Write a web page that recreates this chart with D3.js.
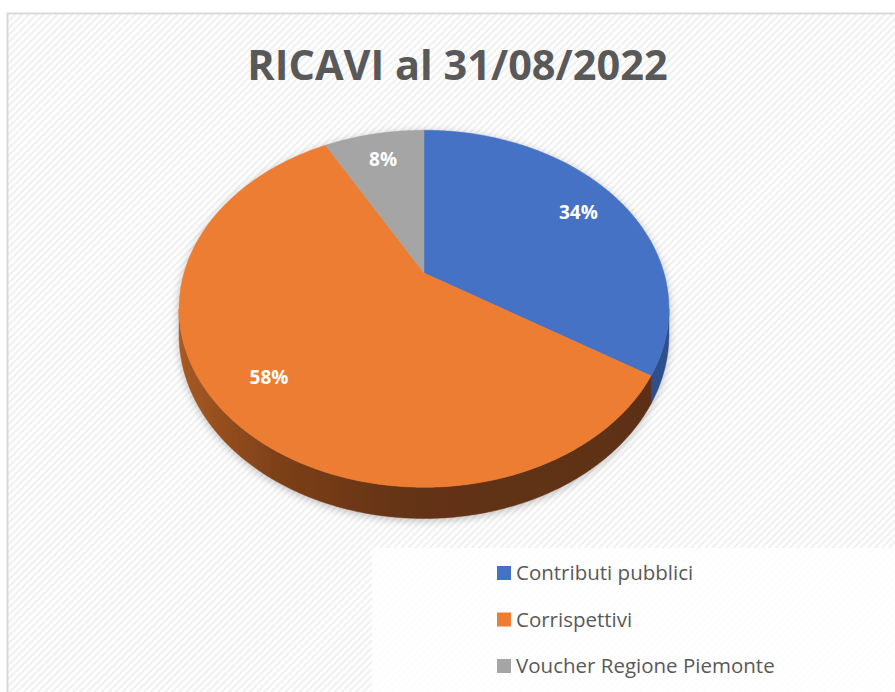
<!DOCTYPE html>
<html>
<head>
<meta charset="utf-8">
<script src="https://cdn.jsdelivr.net/npm/d3@7"></script>
<style>
  body { margin: 0; background: #fff; }
  svg { display: block; }
</style>
</head>
<body>
<div class="container"></div>
<script>
// chart data
const categories = ["Contributi pubblici", "Corrispettivi", "Voucher Regione Piemonte"];
const values = [34, 58, 8];
const colors = ["#4472c4", "#ed7d31", "#a5a5a5"];
const sideColors = ["#2e4f8c", "url(#orangeSide)", "#6f6f6f"];
const titleText = "RICAVI al 31/08/2022";

const width = 895;
const height = 692;

const svg = d3.select(".container")
  .append("svg")
  .attr("width", width)
  .attr("height", height);

const defs = svg.append("defs");

// light diagonal hatching of the chart area
const pat = defs.append("pattern")
  .attr("id", "hatch")
  .attr("patternUnits", "userSpaceOnUse")
  .attr("width", 5)
  .attr("height", 5)
  .attr("patternTransform", "rotate(45)");
pat.append("rect").attr("width", 5).attr("height", 5).attr("fill", "#ffffff");
pat.append("rect").attr("width", 2).attr("height", 5).attr("fill", "#f0f0f0");

// gradient for the orange side wall
const grad = defs.append("linearGradient")
  .attr("id", "orangeSide")
  .attr("gradientUnits", "userSpaceOnUse")
  .attr("x1", 180).attr("x2", 660).attr("y1", 0).attr("y2", 0);
grad.append("stop").attr("offset", 0).attr("stop-color", "#a65a22");
grad.append("stop").attr("offset", 0.2).attr("stop-color", "#7e4019");
grad.append("stop").attr("offset", 0.45).attr("stop-color", "#653415");
grad.append("stop").attr("offset", 1).attr("stop-color", "#5c2f12");

const shadow = defs.append("filter")
  .attr("id", "shadow")
  .attr("x", "-10%").attr("y", "-10%")
  .attr("width", "120%").attr("height", "130%");
shadow.append("feDropShadow")
  .attr("dx", 0).attr("dy", 2)
  .attr("stdDeviation", 4)
  .attr("flood-color", "#000")
  .attr("flood-opacity", 0.25);

// chart area with border
svg.append("rect")
  .attr("x", 7.5).attr("y", 13.5)
  .attr("width", 900).attr("height", 700)
  .attr("fill", "url(#hatch)")
  .attr("stroke", "#d9d9d9")
  .attr("stroke-width", 2);

// title
svg.append("text")
  .attr("x", 457.5)
  .attr("y", 80)
  .attr("text-anchor", "middle")
  .attr("font-family", "Open Sans, sans-serif")
  .attr("font-weight", "bold")
  .attr("font-size", 41.5)
  .attr("fill", "#595959")
  .text(titleText);

// 3d pie: perspective projection of a flat disc
const cx = 424, cy = 273;
const A = 240, B = 171.4, k = 0.2, depth = 25;

function proj(a, r, dz) {
  const u = r * Math.sin(a);
  const v = -r * Math.cos(a);
  const s = 1 - k * v;
  return [cx + A * u / s, cy + (B * v + (dz || 0)) / s];
}

function arcPoints(a0, a1, r, dz) {
  const n = Math.max(2, Math.ceil(Math.abs(a1 - a0) / 0.01));
  return d3.range(n + 1).map(i => proj(a0 + (a1 - a0) * i / n, r, dz));
}

const pie = d3.pie().sort(null).value(d => d);
const arcs = pie(values);
const total = d3.sum(values);

const line = d3.line().curve(d3.curveLinearClosed);

const pieG = svg.append("g").attr("filter", "url(#shadow)");

// visible part of the outer wall (front half, between silhouette points)
const wallStart = Math.PI / 2 + Math.asin(k);
const wallEnd = 3 * Math.PI / 2 - Math.asin(k);

pieG.append("g")
  .selectAll("path")
  .data(arcs.filter(d => d.endAngle > wallStart && d.startAngle < wallEnd))
  .join("path")
  .attr("d", d => {
    const a0 = Math.max(d.startAngle, wallStart);
    const a1 = Math.min(d.endAngle, wallEnd);
    const top = arcPoints(a0, a1, 1, 0);
    const bottom = arcPoints(a1, a0, 1, depth);
    return line(top.concat(bottom));
  })
  .attr("fill", d => sideColors[d.index])
  .attr("stroke", d => sideColors[d.index])
  .attr("stroke-width", 0.5);

// top faces
pieG.append("g")
  .selectAll("path")
  .data(arcs)
  .join("path")
  .attr("d", d => line([proj(0, 0)].concat(arcPoints(d.startAngle, d.endAngle, 1, 0))))
  .attr("fill", d => colors[d.index])
  .attr("stroke", d => colors[d.index])
  .attr("stroke-width", 0.5);

// percentage labels
svg.append("g")
  .selectAll("text")
  .data(arcs)
  .join("text")
  .attr("x", d => proj((d.startAngle + d.endAngle) / 2, 0.79)[0])
  .attr("y", d => proj((d.startAngle + d.endAngle) / 2, 0.79)[1] + 7)
  .attr("text-anchor", "middle")
  .attr("font-family", "Open Sans, sans-serif")
  .attr("font-weight", "bold")
  .attr("font-size", 19)
  .attr("fill", "#ffffff")
  .text(d => d3.format(".0%")(d.value / total));

// legend
svg.append("rect")
  .attr("x", 372).attr("y", 548)
  .attr("width", 530).attr("height", 150)
  .attr("fill", "#ffffff")
  .attr("opacity", 0.85);

const legend = svg.append("g")
  .selectAll("g")
  .data(categories)
  .join("g")
  .attr("transform", (d, i) => `translate(497, ${566 + i * 46.5})`);

legend.append("rect")
  .attr("width", 14).attr("height", 14)
  .attr("fill", (d, i) => colors[i]);

legend.append("text")
  .attr("x", 19)
  .attr("y", 14)
  .attr("font-family", "Open Sans, sans-serif")
  .attr("font-size", 20.5)
  .attr("fill", "#595959")
  .text(d => d);
</script>
</body>
</html>
